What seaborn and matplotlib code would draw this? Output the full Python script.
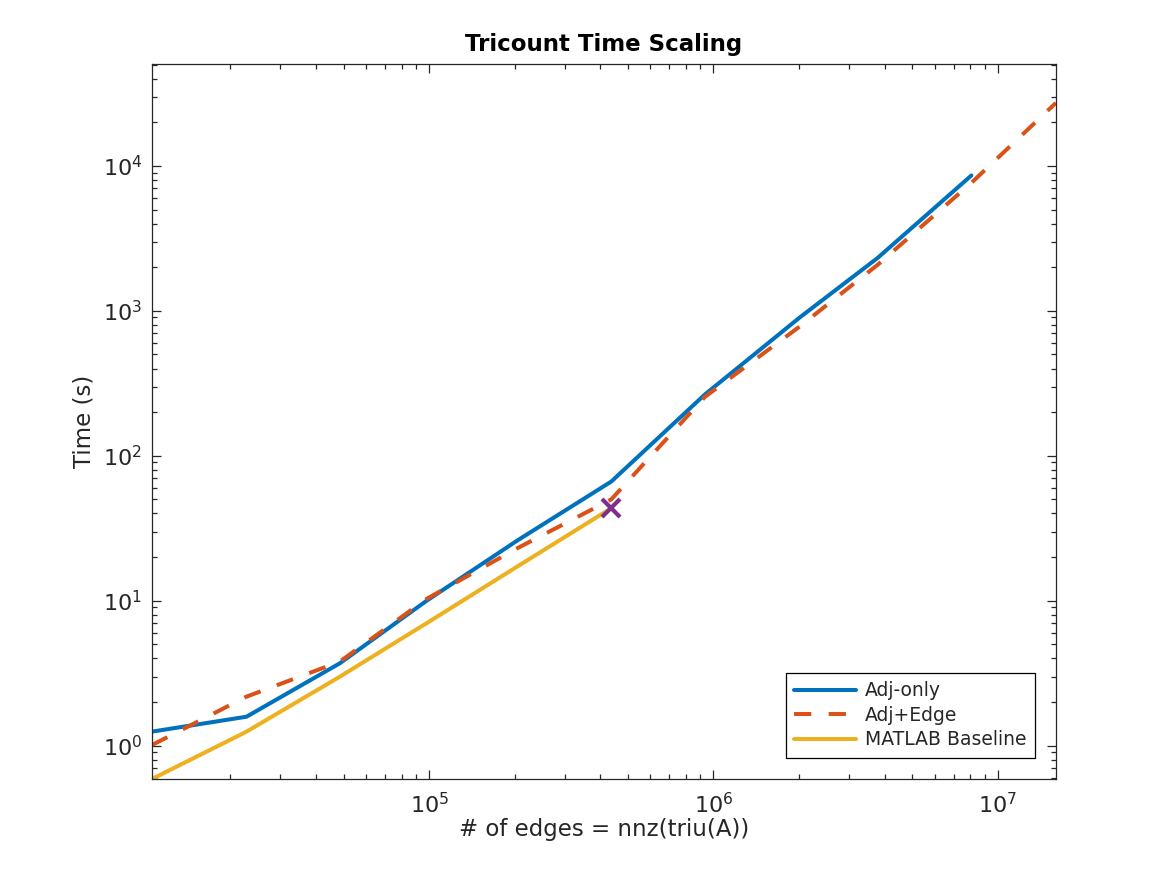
import matplotlib
matplotlib.use('Agg')
import matplotlib.pyplot as plt
import seaborn as sns
import pandas as pd

# values (log-log), time in seconds
edges = [10600, 22800, 48500, 98000, 204000, 437000, 933000, 2010000, 3780000, 8070000, 16000000]
adj_only = [1.25, 1.585, 3.7, 10.0, 26.0, 66.4, 265.0, 900.0, 2320.0, 8590.0]
adj_edge = [1.01, 2.18, 3.8, 10.3, 23.0, 50.0, 255.0, 780.0, 2080.0, 7640.0, 27200.0]
matlab_base = [0.589, 1.25, 2.99, 7.0, 17.2, 43.5]
cross_x = [437000]
cross_y = [43.5]

blue = '#0072BD'
red = '#D95319'
yellow = '#EDB120'
purple = '#7E2F8E'
ink = '#262626'

sns.set_style('ticks', {'xtick.direction': 'in', 'ytick.direction': 'in',
                        'axes.edgecolor': ink, 'xtick.color': ink, 'ytick.color': ink,
                        'text.color': ink, 'axes.labelcolor': ink})
plt.rcParams['font.family'] = ['DejaVu Sans']

df_adj = pd.DataFrame({'edges': edges[:len(adj_only)], 'time': adj_only})
df_edge = pd.DataFrame({'edges': edges[:len(adj_edge)], 'time': adj_edge})
df_base = pd.DataFrame({'edges': edges[:len(matlab_base)], 'time': matlab_base})

fig = plt.figure(figsize=(11.67, 8.75), dpi=100)
ax = fig.add_axes([0.1302, 0.1097, 0.7746, 0.8172])

dash = [4.3, 4.3]
sns.lineplot(data=df_adj, x='edges', y='time', ax=ax, color=blue, lw=2.9,
             label='Adj-only', sort=False)
sns.lineplot(data=df_edge, x='edges', y='time', ax=ax, color=red, lw=2.9,
             label='Adj+Edge', sort=False)
ax.lines[-1].set_dashes(dash)
sns.lineplot(data=df_base, x='edges', y='time', ax=ax, color=yellow, lw=2.9,
             label='MATLAB Baseline', sort=False)
ax.plot(cross_x, cross_y, ls='none', marker='x', ms=13, mew=3, color=purple)

ax.set_xscale('log')
ax.set_yscale('log')
ax.set_xlim(10600, 16000000)
ax.set_ylim(0.589, 50500)

for s in ax.spines.values():
    s.set_visible(True)
    s.set_linewidth(0.9)
ax.tick_params(which='both', top=True, right=True, width=0.9)
ax.tick_params(which='major', length=6.5)
ax.tick_params(which='minor', length=3.5)
ax.tick_params(axis='x', which='major', labelsize=16, pad=9)
ax.tick_params(axis='y', which='major', labelsize=16, pad=7)

ax.set_xlabel('# of edges = nnz(triu(A))', fontsize=16.5, labelpad=1)
ax.set_ylabel('Time (s)', fontsize=16.5, labelpad=5)
ax.set_title('Tricount Time Scaling', fontsize=16.5, fontweight='bold', color='black', pad=9)

leg = ax.legend(loc='lower right', fontsize=13.5, frameon=True, fancybox=False,
                handlelength=3.3, handletextpad=0.45, labelspacing=0.3,
                borderpad=0.45, borderaxespad=1.13, edgecolor='black', framealpha=1)
leg.get_frame().set_linewidth(0.9)
for h in leg.get_lines():
    h.set_linewidth(2.9)
leg.get_lines()[1].set_dashes(dash)

fig.savefig('out.png', dpi=100)
